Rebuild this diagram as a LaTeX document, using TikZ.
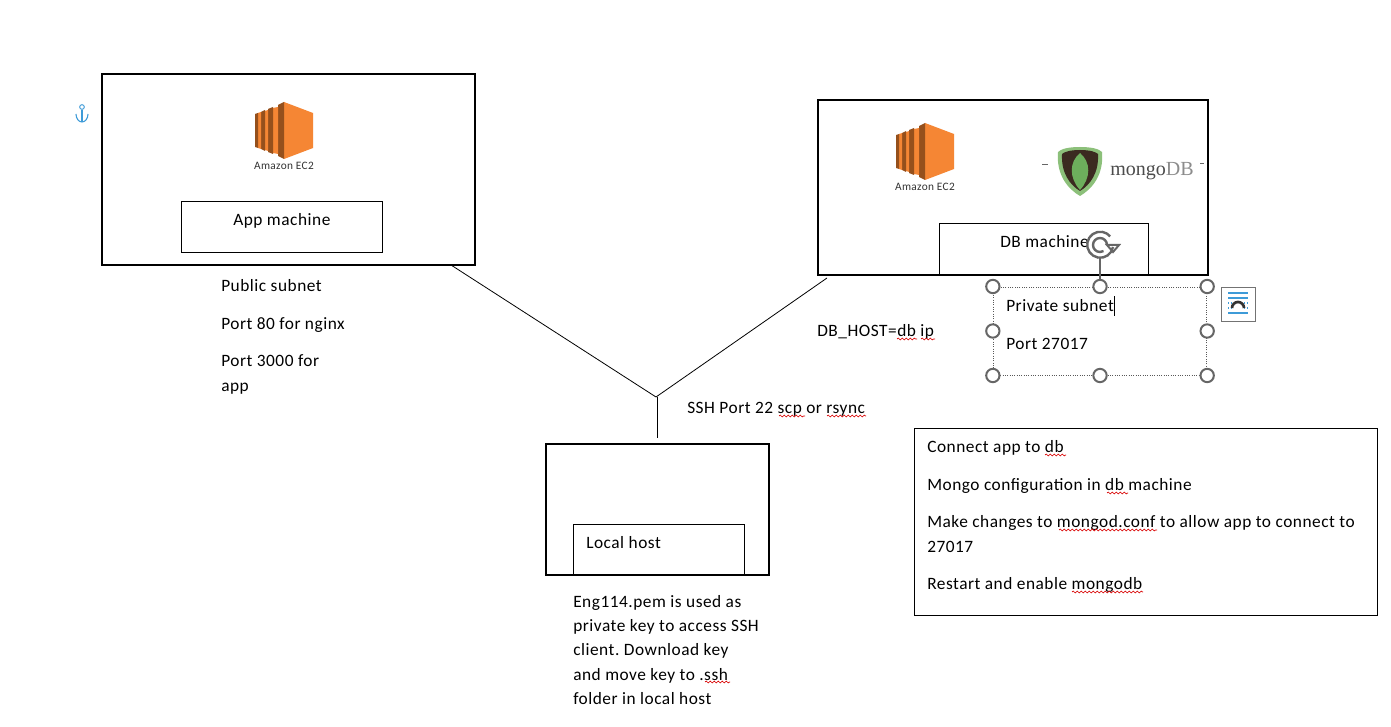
\documentclass[tikz,border=0pt]{standalone}
\usepackage{fontspec}
\setmainfont[LetterSpace=3.0]{Carlito}
\newfontfamily\mongofont{Liberation Serif}
\usetikzlibrary{decorations.pathmorphing}
\definecolor{ecorange}{HTML}{F58634}
\definecolor{ecdark}{HTML}{95501C}
\definecolor{leafdark}{HTML}{3B2A20}
\definecolor{leafrim}{HTML}{8CC07A}
\definecolor{leafgreen}{HTML}{6DAE5C}
\definecolor{wordblue}{HTML}{3E9BD8}
\tikzstyle{outer} = [rectangle, draw=black, line width=1.5pt, inner sep=0pt]
\tikzstyle{inner} = [rectangle, draw=black, line width=0.75pt, inner sep=0pt]
\tikzstyle{txt} = [anchor=base west, inner sep=0pt, yshift=-0.5pt, font=\fontsize{13}{15}\selectfont]
\tikzstyle{line} = [black, line width=0.6pt]
\tikzstyle{handle} = [circle, draw=black!60, fill=white, line width=1.5pt, minimum size=10pt, inner sep=0pt]
\tikzstyle{wavy} = [red!85!black, line width=0.5pt, decorate, decoration={snake, amplitude=0.7pt, segment length=3pt}]

\newcommand{\ectwo}[2]{%
\fill[ecorange] (#1+30,#2+0) -- (#1+59,#2+11) -- (#1+59,#2+46) -- (#1+30,#2+57) -- cycle;
\fill[ecdark] (#1+24,#2+3) -- (#1+30,#2+0) -- (#1+30,#2+57) -- (#1+24,#2+54) -- cycle;
\fill[ecorange] (#1+19,#2+6) -- (#1+24,#2+5) -- (#1+24,#2+52) -- (#1+19,#2+51) -- cycle;
\fill[ecdark] (#1+14,#2+7) -- (#1+19,#2+5) -- (#1+19,#2+52) -- (#1+14,#2+50) -- cycle;
\fill[ecorange] (#1+11,#2+9) -- (#1+14,#2+8) -- (#1+14,#2+49) -- (#1+11,#2+48) -- cycle;
\fill[ecdark] (#1+7,#2+10) -- (#1+11,#2+8) -- (#1+11,#2+49) -- (#1+7,#2+47) -- cycle;
\fill[ecorange] (#1+4,#2+11) -- (#1+7,#2+10) -- (#1+7,#2+47) -- (#1+4,#2+46) -- cycle;
\fill[ecdark] (#1+1,#2+12) -- (#1+4,#2+11) -- (#1+4,#2+46) -- (#1+1,#2+45) -- cycle;
\node[font=\fontsize{8.5}{9}\selectfont, text=black!80] at (#1+30,#2+64) {Amazon EC2};
}

\begin{document}
\frenchspacing
\begin{tikzpicture}[x=0.75pt,y=-0.75pt]
\useasboundingbox (0,0) rectangle (1391,727);
\fill[white] (0,0) rectangle (1391,727);

\node (app) [outer, minimum width=280pt, minimum height=143.5pt] at (288.5,169.5) {};
\node (appin) [inner, minimum width=151pt, minimum height=38pt] at (282,227) {};
\node (db) [outer, minimum width=292.5pt, minimum height=131pt] at (1013,187.5) {};
\node (dbin) [inner, minimum width=157pt, minimum height=38pt] at (1044,249) {};
\node (local) [outer, minimum width=167pt, minimum height=98.5pt] at (657.5,509.5) {};
\node (localin) [inner, minimum width=128pt, minimum height=38pt] at (659,550) {};
\node (notes) [inner, minimum width=347pt, minimum height=140pt] at (1146,522) {};

\ectwo{254}{102}
\ectwo{895}{123}

% mongo logo
\fill[leafrim] (1080,147) .. controls (1068,147) and (1061,149) .. (1058,152) .. controls (1056,175) and (1068,189) .. (1080,196) .. controls (1092,189) and (1104,175) .. (1102,152) .. controls (1099,149) and (1092,147) .. (1080,147) -- cycle;
\fill[leafdark] (1080,150) .. controls (1070,150) and (1064,152) .. (1062,154) .. controls (1061,173) and (1070,185) .. (1080,191) .. controls (1090,185) and (1099,173) .. (1098,154) .. controls (1096,152) and (1090,150) .. (1080,150) -- cycle;
\fill[leafgreen] (1080,153) .. controls (1069,162) and (1069,178) .. (1080,190) .. controls (1091,178) and (1091,162) .. (1080,153) -- cycle;
\node (mongo) [anchor=base west, inner sep=0pt, font=\mongofont\fontsize{15}{17}\selectfont] at (1110,175.5) {\textcolor{black!70}{mongo}\textcolor{black!45}{DB}};
\coordinate (dashaa) at (1042,164);
\coordinate (dashab) at (1048,164);
\coordinate (dashba) at (1200,163);
\coordinate (dashbb) at (1204,163);
\draw [black!60, line width=0.6pt] (dashaa) -- (dashab);
\draw [black!60, line width=0.6pt] (dashba) -- (dashbb);

% connectors
\coordinate (append) at (451,265);
\coordinate (dbend) at (827,278);
\coordinate (join) at (656,397);
\coordinate (top) at (657,397);
\coordinate (bot) at (657,438);
\draw [line] (append) -- (join);
\draw [line] (dbend) -- (join);
\draw [line] (top) -- (bot);

% labels
\node (t1) [txt] at (233,225) {App machine};
\node (t2) [txt] at (221,291) {Public subnet};
\node (t3) [txt] at (221,329) {Port 80 for nginx};
\node (t4) [txt] at (221,366) {Port 3000 for};
\node (t5) [txt] at (221,391) {app};
\node (t6) [txt] at (1000,247) {DB machine};
\node (t7) [txt] at (1006,311) {Private subnet};
\node (t8) [txt] at (1006,349) {Port 27017};
\node (t9) [txt] at (817,336) {DB\_HOST=db ip};
\node (t10) [txt] at (687,413) {SSH Port 22 scp or rsync};
\node (t11) [txt] at (586,548) {Local host};
\node (t12) [txt] at (573,607) {Eng114.pem is used as};
\node (t13) [txt] at (573,631) {private key to access SSH};
\node (t14) [txt] at (573,655) {client. Download key};
\node (t15) [txt] at (573,680) {and move key to .ssh};
\node (t16) [txt] at (573,704) {folder in local host};
\node (t17) [txt] at (927,452) {Connect app to db};
\node (t18) [txt] at (927,490) {Mongo configuration in db machine};
\node (t19) [txt] at (927,527) {Make changes to mongod.conf to allow app to connect to};
\node (t20) [txt] at (927,552) {27017};
\node (t21) [txt] at (927,589) {Restart and enable mongodb};

% spelling marks
\draw [wavy] (897,339) -- (917,339);
\draw [wavy] (921,339) -- (935,339);
\draw [wavy] (779,416) -- (805,416);
\draw [wavy] (827,416) -- (866,416);
\draw [wavy] (705,682) -- (730,682);
\draw [wavy] (1045,455) -- (1066,455);
\draw [wavy] (1107,493) -- (1128,493);
\draw [wavy] (1059,530) -- (1157,530);
\draw [wavy] (1072,592) -- (1143,592);

% selection frame
\node (sel) [rectangle, draw=black!65, densely dotted, line width=0.75pt, minimum width=160pt, minimum height=66pt, inner sep=0pt] at (1100,331) {};
\coordinate (stem) at (1100,258);
\draw [black!60, line width=0.9pt] (sel.north) -- (stem);
\foreach \a in {north west,north,north east,west,east,south west,south,south east}
  \node [handle] at (sel.\a) {};
\coordinate (cura) at (1114,296);
\coordinate (curb) at (1114,316);
\draw [black, line width=0.75pt] (cura) -- (curb);

% rotate handle
\draw [black!60, line width=1.8pt] (1113,247) arc (10:320:13);
\draw [black!60, line width=1.8pt] (1107,245) arc (0:-300:7);
\draw [black!60, line width=1.5pt] (1107,245) -- (1119,245) -- (1113,252) -- cycle;

% layout button
\node (lay) [rectangle, draw=black!55, fill=white, line width=0.75pt, minimum width=25.5pt, minimum height=25.5pt] at (1238.5,304.5) {};
\foreach \y in {293,298,313}
  \draw [wordblue, line width=0.9pt] (1228,\y) -- (1248,\y);
\foreach \y in {303,308} {
  \draw [wordblue, line width=0.9pt, densely dotted] (1228,\y) -- (1232,\y);
  \draw [wordblue, line width=0.9pt, densely dotted] (1244,\y) -- (1248,\y);
}
\draw [black!80, line width=2pt] (1232,308) arc (180:360:6 and 6);

% anchor
\node (anc) [circle, draw=wordblue, line width=0.7pt, minimum size=3.5pt, inner sep=0pt] at (82,107) {};
\coordinate (ancb) at (82,122);
\draw [wordblue, line width=0.8pt] (anc.south) -- (ancb);
\draw [wordblue, line width=0.8pt] (76,114) arc (180:0:6 and 8);
\end{tikzpicture}
\end{document}
